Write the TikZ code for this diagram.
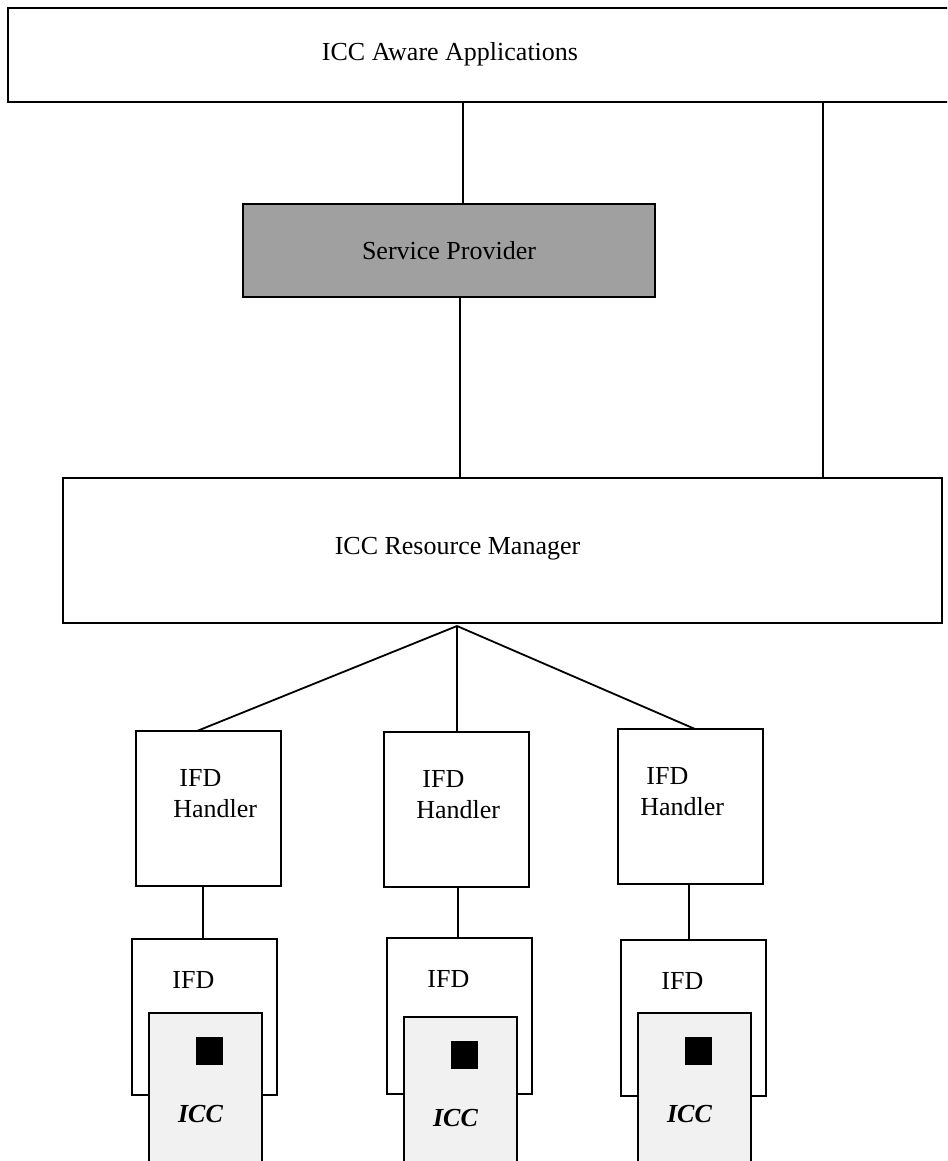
\documentclass[tikz,border=0pt]{standalone}
\usepackage{fontspec}
\setmainfont{Liberation Serif}
\definecolor{spgray}{RGB}{160,160,160}
\definecolor{cardgray}{RGB}{241,241,241}
\usetikzlibrary{calc}
\usetikzlibrary{positioning}

\tikzset{
  box/.style={draw, line width=1pt, rectangle, inner sep=0pt, outer sep=0pt},
  lbl/.style={inner sep=0pt, font=\fontsize{13}{15.5}\selectfont},
  wire/.style={line width=0.9pt},
}

\begin{document}
\begin{tikzpicture}[x=0.5pt, y=-0.5pt]
  \clip (0,0) rectangle (947,1161);
  \fill [white] (0,0) rectangle (947,1161);

  \node [box, anchor=north west, minimum width=500pt, minimum height=47pt] (apps) at (8,8) {};
  \node [lbl] (appslabel) at (450,54) {ICC Aware Applications};

  \node [box, lbl, fill=spgray, anchor=north west, minimum width=206pt, minimum height=46.5pt] (sp) at (243,204) {Service Provider};

  \node [box, anchor=north west, minimum width=439.5pt, minimum height=72.5pt] (rm) at (63,478) {};
  \node [lbl] (rmlabel) at (457.5,549) {ICC Resource Manager};

  \coordinate (tapA) at (463,0);
  \coordinate (tapB) at (460,0);
  \coordinate (tapC) at (823,0);
  \draw [wire] (apps.south -| tapA) -- (sp.north -| tapA);
  \draw [wire] (sp.south -| tapB) -- (rm.north -| tapB);
  \draw [wire] (apps.south -| tapC) -- (rm.north -| tapC);

  \coordinate (fan) at (457,626);

  \foreach \i/\hx/\hy/\tx/\fx/\fy/\ky/\lx/\cx in {1/136/731/43/132/939/1013/197/203,
      2/384/732/38/387/938/1017/457/458, 3/618/729/28/621/940/1013/695/689} {
    % handler
    \node [box, anchor=north west, minimum width=72.5pt, minimum height=77.5pt] (h\i) at (\hx,\hy) {};
    \node [lbl, anchor=base west] (hl\i) at ($(h\i.north west)+(\tx,55)$) {IFD};
    \node [lbl, anchor=base west] (hn\i) at ($(h\i.north west)+(\tx-6,86)$) {Handler};
    \coordinate (t\i) at (\lx,0);
    \coordinate (c\i) at (\cx,0);
    \draw [wire] (fan) -- (h\i.north -| t\i);

    % reader and card
    \node [box, anchor=north west, minimum width=72.5pt, minimum height=78pt] (f\i) at (\fx,\fy) {};
    \node [lbl, anchor=base west] (fl\i) at ($(f\i.north west)+(40,49)$) {IFD};
    \draw [wire] (h\i.south -| c\i) -- (f\i.north -| c\i);
    \node [box, fill=cardgray, anchor=north west, minimum width=56.5pt, minimum height=90pt] (icc\i) at (\fx+16.5,\ky) {};
    \node [fill=black, anchor=north west, minimum width=13.5pt, minimum height=14pt, inner sep=0pt] (chip\i) at ($(icc\i.north west)+(47,24)$) {};
    \node [lbl, font=\fontsize{13}{15.5}\selectfont\bfseries\itshape] (icclabel\i) at ($(icc\i.north west)+(52,101)$) {ICC};
  }
\end{tikzpicture}
\end{document}
